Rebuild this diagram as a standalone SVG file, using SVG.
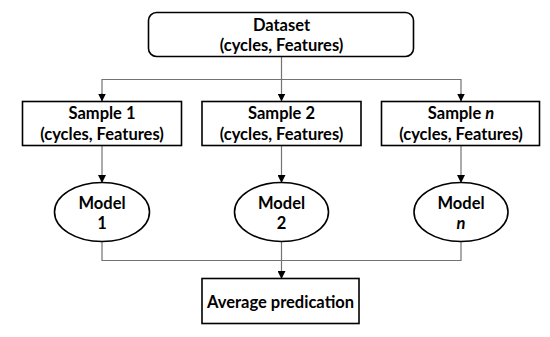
<svg xmlns="http://www.w3.org/2000/svg" width="550" height="337" viewBox="0 0 550 337">
<defs>
<marker id="arr" markerWidth="8" markerHeight="8" refX="7.5" refY="4" orient="auto" markerUnits="userSpaceOnUse">
<path d="M0,0 L8,4 L0,8 Z" fill="#000"/>
</marker>
<style>
.box{fill:#fff;stroke:#000;stroke-width:1.6}
.ln{fill:none;stroke:#737373;stroke-width:1.2}
.t{font-family:Lato,"Liberation Sans",sans-serif;font-weight:bold;font-size:16.5px;fill:#000;text-anchor:middle}
</style>
</defs>
<rect width="550" height="337" fill="#fff"/>
<g id="connectors">
<line class="ln" x1="281.5" y1="56.5" x2="281.5" y2="101" marker-end="url(#arr)"/>
<polyline class="ln" points="102,101 102,79.5 461,79.5 461,101"/>
<line class="ln" x1="102" y1="93" x2="102" y2="101" marker-end="url(#arr)"/>
<line class="ln" x1="461" y1="93" x2="461" y2="101" marker-end="url(#arr)"/>
<line class="ln" x1="102" y1="145.5" x2="102" y2="182.5" marker-end="url(#arr)"/>
<line class="ln" x1="281.5" y1="145.5" x2="281.5" y2="182.5" marker-end="url(#arr)"/>
<line class="ln" x1="461" y1="145.5" x2="461" y2="182.5" marker-end="url(#arr)"/>
<polyline class="ln" points="102,241.5 102,260.5 461,260.5 461,241.5"/>
<line class="ln" x1="281.5" y1="241.5" x2="281.5" y2="278.5" marker-end="url(#arr)"/>
</g>
<g id="dataset">
<rect class="box" x="148.5" y="12.5" width="265" height="44" rx="8"/>
<text class="t" x="281.5" y="31">Dataset</text>
<text class="t" x="281.5" y="51">(cycles, Features)</text>
</g>
<g id="sample1">
<rect class="box" x="22.5" y="101.5" width="159" height="44"/>
<text class="t" x="102" y="119">Sample 1</text>
<text class="t" x="102" y="140">(cycles, Features)</text>
</g>
<g id="sample2">
<rect class="box" x="202" y="101.5" width="159" height="44"/>
<text class="t" x="281.5" y="119">Sample 2</text>
<text class="t" x="281.5" y="140">(cycles, Features)</text>
</g>
<g id="samplen">
<rect class="box" x="381.5" y="101.5" width="158" height="44"/>
<text class="t" x="461" y="119">Sample <tspan font-style="italic">n</tspan></text>
<text class="t" x="461" y="140">(cycles, Features)</text>
</g>
<g id="model1">
<ellipse class="box" cx="102" cy="212" rx="47.5" ry="29.5"/>
<text class="t" x="102" y="208.5">Model</text>
<text class="t" x="102" y="228.5">1</text>
</g>
<g id="model2">
<ellipse class="box" cx="281.5" cy="212" rx="47" ry="29.5"/>
<text class="t" x="281.5" y="208.5">Model</text>
<text class="t" x="281.5" y="228.5">2</text>
</g>
<g id="modeln">
<ellipse class="box" cx="461" cy="212" rx="47" ry="29.5"/>
<text class="t" x="461" y="208.5">Model</text>
<text class="t" x="461" y="228.5" font-style="italic">n</text>
</g>
<g id="average">
<rect class="box" x="202" y="278.5" width="157" height="45"/>
<text class="t" x="280.5" y="307.5">Average predication</text>
</g>
</svg>
